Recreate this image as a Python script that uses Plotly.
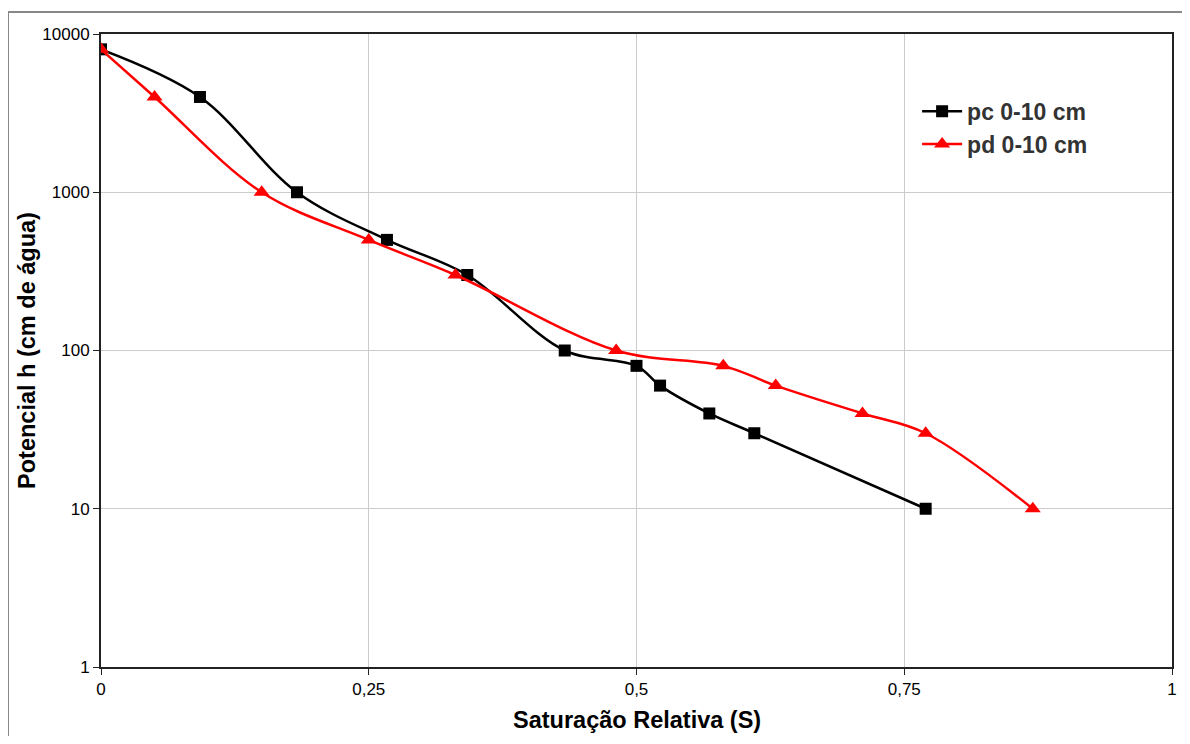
import plotly.graph_objects as go

# Data
pc_s = [0.0, 0.0924, 0.183, 0.267, 0.342, 0.433, 0.50, 0.522, 0.568, 0.610, 0.770]
pc_h = [8000, 4000, 1000, 500, 300, 100, 80, 60, 40, 30, 10]
pd_s = [0.0, 0.050, 0.150, 0.250, 0.331, 0.481, 0.581, 0.630, 0.711, 0.770, 0.870]
pd_h = [8000, 4000, 1000, 500, 300, 100, 80, 60, 40, 30, 10]
x_ticks = [0, 0.25, 0.5, 0.75, 1]
x_ticktext = ["0", "0,25", "0,5", "0,75", "1"]
y_ticks = [1, 10, 100, 1000, 10000]
y_ticktext = ["1", "10", "100", "1000", "10000"]
x_title = "Saturação Relativa (S)"
y_title = "Potencial h (cm de água)"

FONT = "Liberation Sans, Arial, sans-serif"

# page has an 8px body margin; figure sized/margined to compensate
L, R, T, B = 93, 10, 26, 69
W, H = 1174, 728
PW, PH = W - L - R, H - T - B

fig = go.Figure()
fig.add_trace(go.Scatter(
    x=pc_s, y=pc_h, name="pc 0-10 cm", mode="lines+markers", legendgroup="a",
    line=dict(color="black", width=2.5, shape="spline", smoothing=1),
    marker=dict(symbol="square", size=12, color="black"),
))
fig.add_trace(go.Scatter(
    x=pd_s, y=pd_h, name="pd 0-10 cm", mode="lines+markers", legendgroup="b",
    line=dict(color="#ff0000", width=2.5, shape="spline", smoothing=1),
    marker=dict(symbol="triangle-up", size=14, color="#ff0000"),
))

fig.update_layout(
    width=W, height=H,
    margin=dict(l=L, r=R, t=T, b=B, autoexpand=False),
    paper_bgcolor="white", plot_bgcolor="white",
    font=dict(family=FONT, color="black", size=17),
    showlegend=True,
    legend=dict(
        x=0.762, y=0.912, xanchor="left", yanchor="top",
        font=dict(family=FONT, size=23, color="#333333", weight="bold"),
        bgcolor="rgba(0,0,0,0)", tracegroupgap=0, itemwidth=40,
    ),
    xaxis=dict(
        range=[0, 1], tickvals=x_ticks, ticktext=x_ticktext, automargin=False,
        showgrid=True, gridcolor="#cccccc", gridwidth=1,
        showline=True, linecolor="#222222", linewidth=2, mirror=True,
        ticks="outside", ticklen=6, tickcolor="#222222",
        zeroline=False,
        tickfont=dict(family=FONT, size=17),
    ),
    yaxis=dict(
        type="log", range=[0, 4], tickvals=y_ticks, ticktext=y_ticktext, automargin=False,
        showgrid=True, gridcolor="#cccccc", gridwidth=1,
        showline=True, linecolor="#222222", linewidth=2, mirror=True,
        ticks="outside", ticklen=6, tickcolor="#222222",
        zeroline=False,
        title=dict(text="<b>" + y_title + "</b>", font=dict(family=FONT, size=23.5), standoff=0),
        tickfont=dict(family=FONT, size=17),
    ),
    annotations=[
        dict(text="<b>" + x_title + "</b>", xref="paper", yref="paper",
             x=0.5, y=(PH - (712 - T)) / PH, xanchor="center", yanchor="middle",
             showarrow=False, font=dict(family=FONT, size=23.5, color="black")),
    ],
    shapes=[
        dict(type="line", xref="paper", yref="paper",
             x0=(0 - L) / PW, x1=1.1, y0=(PH + T - 4) / PH, y1=(PH + T - 4) / PH,
             line=dict(color="#888888", width=2)),
        dict(type="line", xref="paper", yref="paper",
             x0=(0 - L) / PW, x1=(0 - L) / PW, y0=-0.2, y1=(PH + T - 4) / PH,
             line=dict(color="#888888", width=2)),
    ],
)

fig.write_html("out.html")
